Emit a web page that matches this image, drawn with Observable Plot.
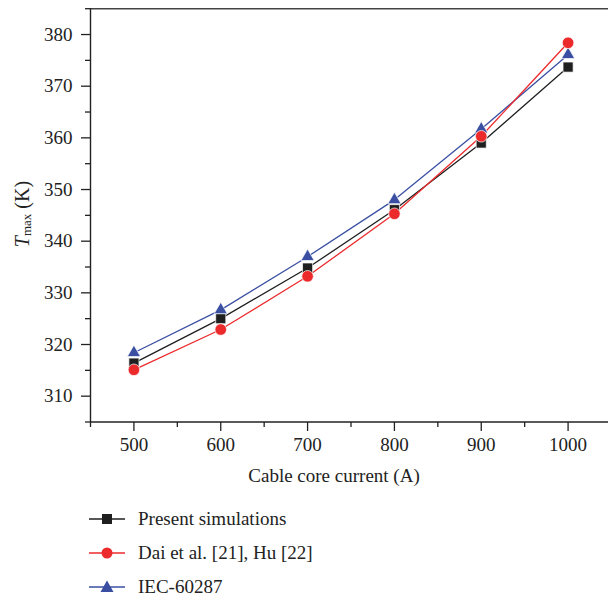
<!DOCTYPE html>
<html>
<head>
<meta charset="utf-8">
<script src="https://cdn.jsdelivr.net/npm/d3@7"></script>
<script src="https://cdn.jsdelivr.net/npm/@observablehq/plot@0.6"></script>
<style>
  html, body { margin: 0; padding: 0; background: #fff; overflow: hidden; }
  #chart svg { display: block; }
  #chart svg text { font-family: "Liberation Serif", serif !important; }
  .legend { font-family: "Liberation Serif", serif; font-size: 19px; color: #222; padding-top: 7px; }
  .legend .row { height: 34px; display: flex; align-items: center; }
  .legend svg { margin-left: 89px; margin-right: 13px; flex: none; }
</style>
</head>
<body>
<div id="chart"></div>
<div class="legend" id="legend"></div>
<script>
// Data
const currents = [500, 600, 700, 800, 900, 1000];
const present = [316.4, 325.0, 334.8, 346.1, 359.0, 373.7];
const dai = [315.1, 322.9, 333.2, 345.3, 360.3, 378.4];
const iec = [318.4, 326.7, 337.0, 348.0, 361.7, 376.1];

const seriesNames = ["Present simulations", "Dai et al. [21], Hu [22]", "IEC-60287"];
const xTicks = [500, 600, 700, 800, 900, 1000];
const xMinor = [450, 550, 650, 750, 850, 950];
const yTicks = [310, 320, 330, 340, 350, 360, 370, 380];
const yMinor = [305, 315, 325, 335, 345, 355, 365, 375, 385];

const cBlack = "#1f1f1f", cRed = "#ec2a2c", cBlue = "#3a4fa2";

const seriesLine = (vals, color) =>
  Plot.line(currents, {x: d => d, y: (d, i) => vals[i], stroke: color, strokeWidth: 1.3});
const seriesDots = (vals, color, symbol, r) =>
  Plot.dot(currents, {x: d => d, y: (d, i) => vals[i], fill: color, symbol, r, stroke: "white", strokeWidth: 0.7});

const plot = Plot.plot({
  width: 608,
  height: 495,
  marginLeft: 90,
  marginTop: 8,
  marginRight: 0,
  marginBottom: 73,
  x: {domain: [450, 1050], range: [90, 611]},
  y: {domain: [305, 385], range: [421.5, 8.2]},
  style: {fontFamily: "Liberation Serif", fontSize: "19px", color: "#222", background: "white"},
  marks: [
    Plot.ruleY([385], {stroke: "#444", strokeWidth: 1.5}),
    Plot.ruleY([305], {stroke: "#222", strokeWidth: 1.4}),
    Plot.ruleX([450], {stroke: "#222", strokeWidth: 1.4}),
    Plot.axisX({ticks: xTicks, tickSize: 9, tickPadding: 6, tickFormat: d => String(d), label: null, stroke: "#222", strokeWidth: 1.3, fontFamily: "Liberation Serif"}),
    Plot.axisX({ticks: xMinor, tickSize: 5, tickFormat: () => "", label: null, stroke: "#222", strokeWidth: 1.3}),
    Plot.axisY({ticks: yTicks, tickSize: 9, tickPadding: 9, tickFormat: d => String(d), label: null, stroke: "#222", strokeWidth: 1.3, fontFamily: "Liberation Serif"}),
    Plot.axisY({ticks: yMinor, tickSize: 5, tickFormat: () => "", label: null, stroke: "#222", strokeWidth: 1.3}),
    seriesLine(present, cBlack),
    seriesLine(iec, cBlue),
    seriesLine(dai, cRed),
    seriesDots(present, cBlack, "square", 5.7),
    seriesDots(iec, cBlue, "triangle", 4.9),
    seriesDots(dai, cRed, "circle", 5.8)
  ]
});

const svg = d3.select(plot);
// x axis label
svg.append("text")
  .attr("x", 334).attr("y", 482)
  .attr("text-anchor", "middle")
  .attr("font-family", "Liberation Serif").attr("font-size", 19).attr("fill", "#222")
  .text("Cable core current (A)");
// y axis label with italic T and subscript
const yl = svg.append("text")
  .attr("transform", "translate(28.5,214) rotate(-90)")
  .attr("text-anchor", "middle")
  .attr("font-family", "Liberation Serif").attr("font-size", 20).attr("fill", "#222");
yl.append("tspan").attr("font-style", "italic").text("T");
yl.append("tspan").attr("font-size", 13).attr("dy", 2).text("max");
yl.append("tspan").attr("dy", -2).text(" (K)");

document.getElementById("chart").appendChild(plot);

// Legend (HTML below the chart)
const legendDefs = [
  {name: seriesNames[0], color: cBlack, symbol: "square"},
  {name: seriesNames[1], color: cRed, symbol: "circle"},
  {name: seriesNames[2], color: cBlue, symbol: "triangle"}
];
const legend = d3.select("#legend");
for (const item of legendDefs) {
  const row = legend.append("div").attr("class", "row");
  const s = row.append("svg").attr("width", 36).attr("height", 20);
  s.append("line").attr("x1", 0).attr("x2", 36).attr("y1", 10).attr("y2", 10)
    .attr("stroke", item.color).attr("stroke-width", 1.5);
  if (item.symbol === "square") {
    s.append("rect").attr("x", 13).attr("y", 5).attr("width", 10).attr("height", 10).attr("fill", item.color);
  } else if (item.symbol === "circle") {
    s.append("circle").attr("cx", 18).attr("cy", 10).attr("r", 5.5).attr("fill", item.color);
  } else {
    s.append("path").attr("d", "M18,3.5 L24.5,15 L11.5,15 Z").attr("fill", item.color);
  }
  row.append("span").text(item.name);
}
</script>
</body>
</html>
